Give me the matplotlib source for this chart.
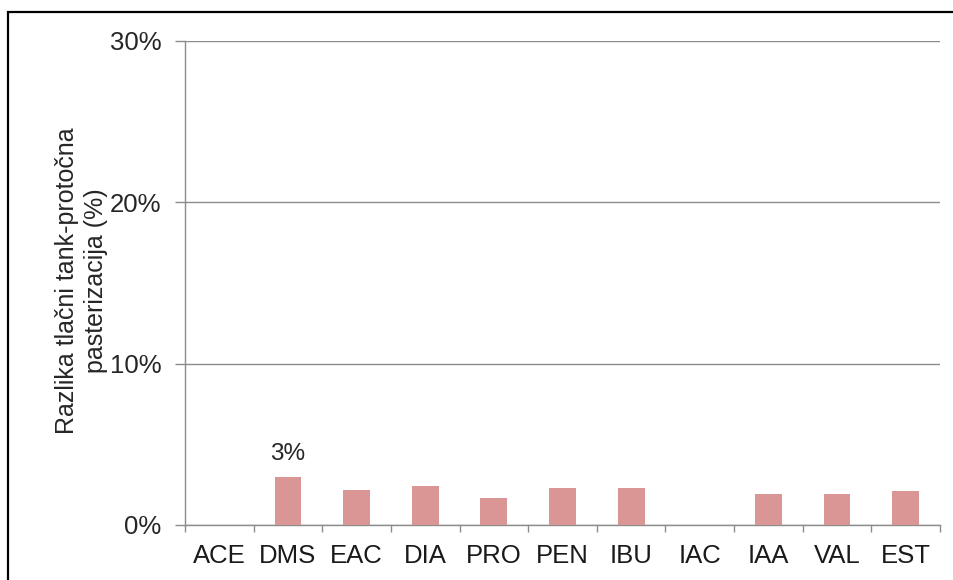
import matplotlib
matplotlib.use("Agg")
import matplotlib.pyplot as plt
from matplotlib.patches import Rectangle
from matplotlib.ticker import FuncFormatter, FixedLocator
import numpy as np

plt.rcParams['font.family'] = ['Liberation Sans', 'DejaVu Sans']

categories = ["ACE", "DMS", "EAC", "DIA", "PRO", "PEN", "IBU", "IAC", "IAA", "VAL", "EST"]
values = [0.0, 3.0, 2.2, 2.4, 1.7, 2.3, 2.3, 0.0, 1.9, 1.9, 2.1]
labelled = {"DMS": "3%"}
y_ticks = [0, 10, 20, 30]

W, H = 954, 580
fig = plt.figure(figsize=(W / 100, H / 100), dpi=100)

# outer frame (only top and left edges fall inside the canvas)
fig.patches.append(Rectangle((8 / W, -0.1), 1.2, 1 - 12 / H + 0.1, transform=fig.transFigure,
                             fill=False, edgecolor="black", linewidth=1.6, zorder=0))

ax = fig.add_axes([185 / W, 1 - 525 / H, (940 - 185) / W, (525 - 41) / H])

x = np.arange(len(categories))
bar_color = "#D99694"
ax.bar(x, values, width=0.39, color=bar_color, zorder=3)

for i, (c, v) in enumerate(zip(categories, values)):
    if c in labelled:
        ax.text(i, v + 0.75, labelled[c], ha="center", va="bottom", fontsize=17.5, color="#262626")

ax.set_xlim(-0.5, len(categories) - 0.5)
ax.set_ylim(0, 30)
ax.yaxis.set_major_locator(FixedLocator(y_ticks))
ax.yaxis.set_major_formatter(FuncFormatter(lambda v, p: f"{v:.0f}%"))
ax.grid(axis="y", color="#8C8C8C", linewidth=1.0, zorder=0)

ax.set_xticks(x)
ax.set_xticklabels(categories, fontsize=18.5, color="#1a1a1a")
ax.xaxis.set_minor_locator(FixedLocator(np.arange(-0.5, len(categories), 1.0)))
ax.tick_params(axis="x", which="major", length=0, pad=14)
ax.tick_params(axis="x", which="minor", length=5, width=1, color="#8C8C8C", direction="out")
ax.tick_params(axis="y", length=7, width=1, color="#8C8C8C", direction="out",
               labelsize=18.5, labelcolor="#262626", pad=10)

for s in ["top", "right"]:
    ax.spines[s].set_visible(False)
for s in ["left", "bottom"]:
    ax.spines[s].set_color("#8C8C8C")
    ax.spines[s].set_linewidth(1.0)

ax.set_ylabel("Razlika tlačni tank-protočna\npasterizacija (%)", fontsize=18, color="#262626",
              labelpad=1, linespacing=1.3)
ax.yaxis.label.set_y(0.505)

fig.savefig("out.png", dpi=100)
